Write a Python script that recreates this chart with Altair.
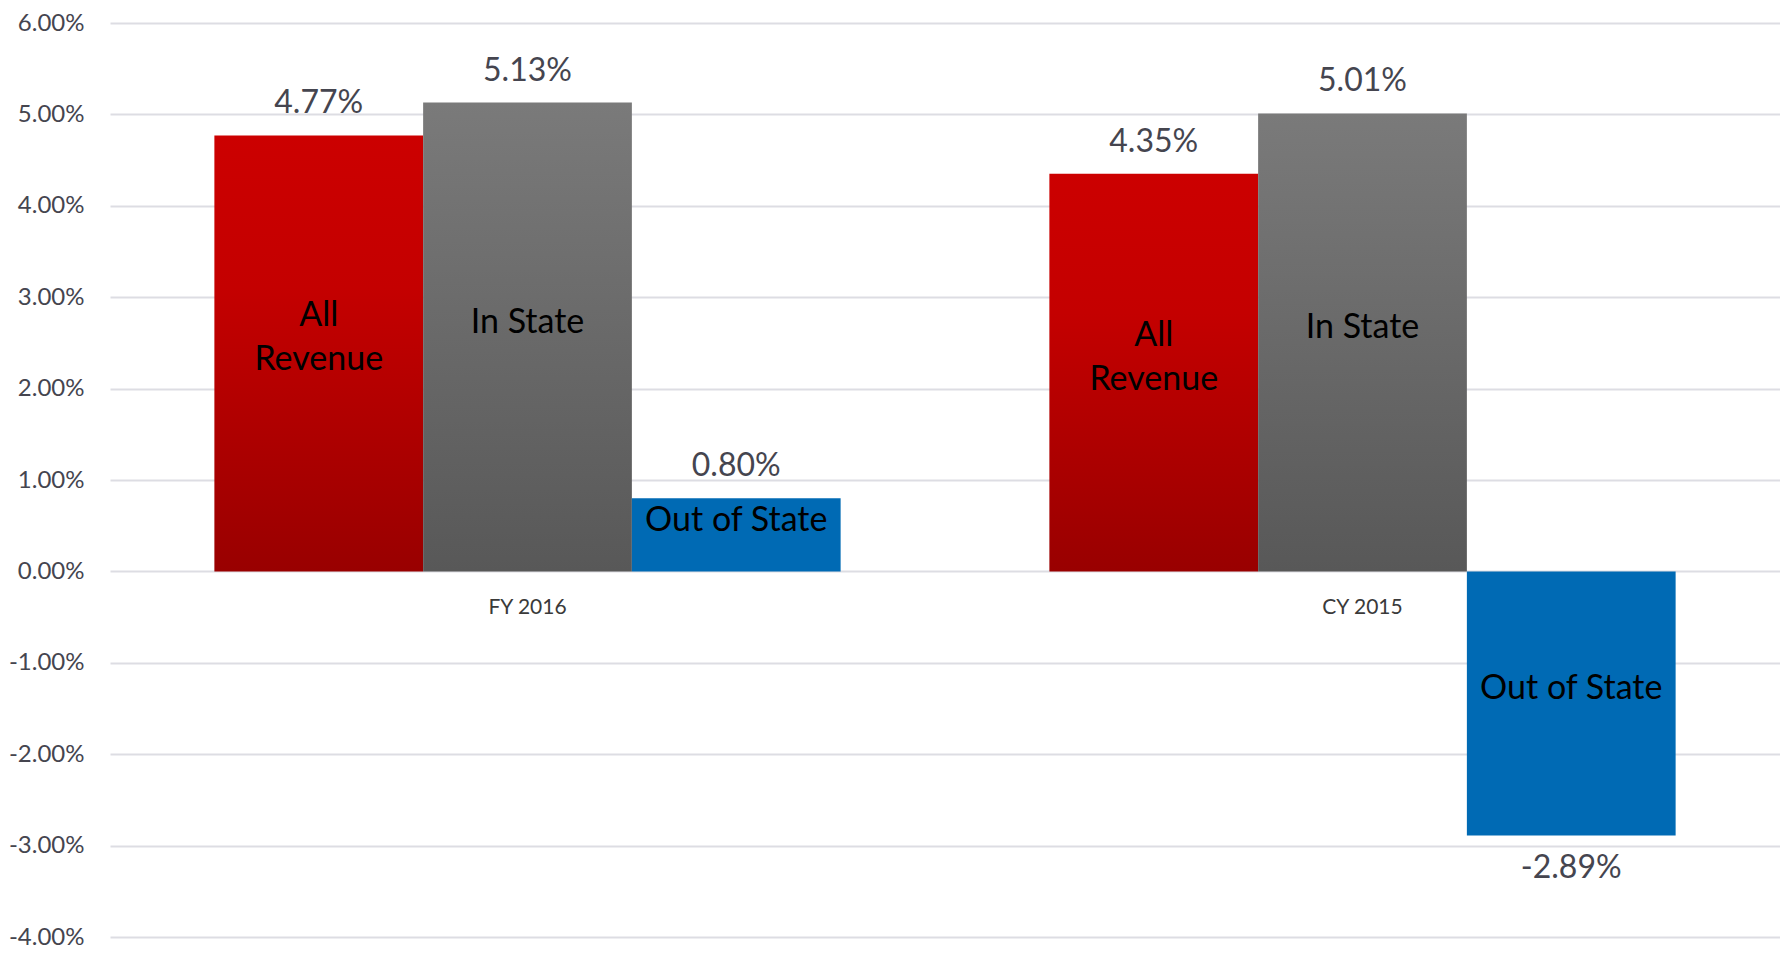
import altair as alt
import pandas as pd

groups = ["FY 2016", "CY 2015"]
series = ["All Revenue", "In State", "Out of State"]
inside_labels = ["All\nRevenue", "In State", "Out of State"]
fy2016 = [4.77, 5.13, 0.80]
cy2015 = [4.35, 5.01, -2.89]

rows = []
for g, vals in zip(groups, [fy2016, cy2015]):
    for s, lab, v in zip(series, inside_labels, vals):
        rows.append({"group": g, "series": s, "inside": lab, "value": v})
df = pd.DataFrame(rows)

W, H = 1670, 914
FONT = "Lato"
TXT = "#45454F"
PCT = "(datum.value < 0 ? '-' : '') + format(abs(datum.value), '.2f') + '%'"

x_enc = alt.X("group:N", sort=groups, title=None,
              scale=alt.Scale(paddingInner=0.25, paddingOuter=0.125),
              axis=alt.Axis(labelAngle=0, domain=False, ticks=False, labelPadding=25,
                            labelFontSize=21, labelFont=FONT, labelColor="#3A3A3A",
                            offset=-H * 4 / 10, grid=False))
xo_enc = alt.XOffset("series:N", sort=series, scale=alt.Scale(domain=series, paddingInner=0, paddingOuter=0))
yscale = alt.Scale(domain=[-4, 6], nice=False, zero=False)
y_enc = alt.Y("value:Q", title=None, scale=yscale,
              axis=alt.Axis(values=[-4, -3, -2, -1, 0, 1, 2, 3, 4, 5, 6],
                            labelExpr=PCT,
                            domain=False, ticks=False, labelPadding=26,
                            labelFontSize=24, labelFont=FONT, labelColor=TXT,
                            gridColor="#DDDDE3", gridWidth=2))

base = alt.Chart(df)

red_grad = alt.Gradient(gradient="linear",
                        stops=[alt.GradientStop(color="#CC0000", offset=0),
                               alt.GradientStop(color="#C40000", offset=0.35),
                               alt.GradientStop(color="#990000", offset=1)],
                        x1=0, x2=0, y1=0, y2=1)
gray_grad = alt.Gradient(gradient="linear",
                         stops=[alt.GradientStop(color="#7A7A7A", offset=0),
                                alt.GradientStop(color="#585858", offset=1)],
                         x1=0, x2=0, y1=0, y2=1)

bars_red = base.transform_filter(alt.datum.series == "All Revenue").mark_bar(color=red_grad).encode(
    x=x_enc, xOffset=xo_enc, y=y_enc, y2=alt.datum(0))
bars_gray = base.transform_filter(alt.datum.series == "In State").mark_bar(color=gray_grad).encode(
    x=x_enc, xOffset=xo_enc, y=y_enc, y2=alt.datum(0))
bars_blue = base.transform_filter(alt.datum.series == "Out of State").mark_bar(color="#006AB4").encode(
    x=x_enc, xOffset=xo_enc, y=y_enc, y2=alt.datum(0))

val_pos = base.transform_filter(alt.datum.value >= 0).transform_calculate(
    lbl=PCT).mark_text(
    dy=-32, baseline="middle", fontSize=32, font=FONT, color=TXT).encode(
    x=x_enc, xOffset=xo_enc, y=y_enc, text="lbl:N")
val_neg = base.transform_filter(alt.datum.value < 0).transform_calculate(
    lbl=PCT).mark_text(
    dy=32, baseline="middle", fontSize=32, font=FONT, color=TXT).encode(
    x=x_enc, xOffset=xo_enc, y=y_enc, text="lbl:N")

inside_one = base.transform_filter("indexof(datum.inside, '\\n') < 0").transform_calculate(
    mid="datum.value / 2").mark_text(
    dy=-14, baseline="middle", fontSize=34, font=FONT, color="#000000").encode(
    x=x_enc, xOffset=xo_enc, y=alt.Y("mid:Q", scale=yscale), text="inside:N")
inside_two = base.transform_filter("indexof(datum.inside, '\\n') >= 0").transform_calculate(
    mid="datum.value / 2").mark_text(
    dy=-37, baseline="middle", fontSize=34, font=FONT, color="#000000",
    lineBreak="\n", lineHeight=44).encode(
    x=x_enc, xOffset=xo_enc, y=alt.Y("mid:Q", scale=yscale), text="inside:N")

chart = alt.layer(bars_red, bars_gray, bars_blue, val_pos, val_neg, inside_one, inside_two).properties(
    width=W, height=H,
    padding={"top": 3, "left": 0, "right": 0, "bottom": 0},
).configure_view(stroke=None).configure_axis(labelFont=FONT)

chart.save("out.html", embed_options={"renderer": "svg", "actions": False})
